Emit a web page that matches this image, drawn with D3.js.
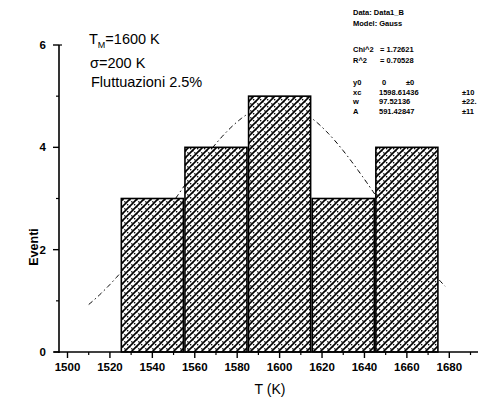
<!DOCTYPE html>
<html>
<head>
<meta charset="utf-8">
<script src="https://cdn.jsdelivr.net/npm/d3@7"></script>
<style>
  html, body { margin: 0; padding: 0; background: #fff; }
  svg { display: block; font-family: "Liberation Sans", Arial, sans-serif; }
</style>
</head>
<body>
<svg id="chart" width="478" height="399"></svg>
<script>
// Histogram of measured temperatures
const binStarts = [1525, 1555, 1585, 1615, 1645];
const binWidth = 30;
const counts = [3, 4, 5, 3, 4];

// Gauss fit parameters (y0, xc, w, A)
const fitY0 = 0;
const fitXc = 1598.61436;
const fitW = 97.52136;
const fitA = 591.42847;
const fitRange = [1510, 1678];

// Axis ticks
const xMajorTicks = [1500, 1520, 1540, 1560, 1580, 1600, 1620, 1640, 1660, 1680];
const xMinorTicks = [1510, 1530, 1550, 1570, 1590, 1610, 1630, 1650, 1670, 1690];
const yMajorTicks = [0, 2, 4, 6];
const yMinorTicks = [1, 3, 5];

// Fit report lines
const reportHead = ["Data: Data1_B", "Model: Gauss"];
const reportQuality = [["Chi^2", "= 1.72621"], ["R^2", "= 0.70528"]];
const reportParams = [
  ["y0", "0", "\u00b10"],
  ["xc", "1598.61436", "\u00b110"],
  ["w", "97.52136", "\u00b122."],
  ["A", "591.42847", "\u00b111"]
];

const svg = d3.select("#chart");

const x = d3.scaleLinear().domain([1500, 1680]).range([67.5, 449.3]);
const y = d3.scaleLinear().domain([0, 6]).range([352, 45]);

// Cross-hatch fill
const P = 7;
const defs = svg.append("defs");
const pat = defs.append("pattern")
  .attr("id", "hatch")
  .attr("patternUnits", "userSpaceOnUse")
  .attr("width", P).attr("height", P);
pat.append("rect").attr("width", P).attr("height", P).attr("fill", "#fff");
pat.append("path")
  .attr("d", `M-1,${P + 1} L${P + 1},-1 M-1,1 L1,-1 M${P - 1},${P + 1} L${P + 1},${P - 1}`)
  .attr("stroke", "#000").attr("stroke-width", 1.6);
pat.append("path")
  .attr("d", `M-1,-1 L${P + 1},${P + 1}`)
  .attr("stroke", "#000").attr("stroke-width", 1.2)
  .attr("stroke-dasharray", "1.6,1.4");

// Gauss fit curve
const gauss = t => fitY0 + fitA / (fitW * Math.sqrt(Math.PI / 2)) *
  Math.exp(-2 * Math.pow((t - fitXc) / fitW, 2));
const curveXs = d3.range(fitRange[0], fitRange[1] + 0.5, 1);
svg.append("path")
  .datum(curveXs)
  .attr("fill", "none")
  .attr("stroke", "#000")
  .attr("stroke-width", 1)
  .attr("stroke-dasharray", "5,3,1.5,3")
  .attr("d", d3.line().x(d => x(d)).y(d => y(gauss(d))));

// Bars
svg.append("g").selectAll("rect")
  .data(binStarts.map((s, i) => ({ s, c: counts[i] })))
  .join("rect")
  .attr("x", d => x(d.s) + 0.8)
  .attr("y", d => y(d.c))
  .attr("width", d => x(d.s + binWidth) - x(d.s) - 1.6)
  .attr("height", d => y(0) - y(d.c))
  .attr("fill", "url(#hatch)")
  .attr("stroke", "#000")
  .attr("stroke-width", 1.6);

// X axis
const xAxisG = svg.append("g").attr("transform", `translate(0,${y(0)})`);
xAxisG.append("line")
  .attr("x1", 54).attr("x2", 478)
  .attr("stroke", "#000").attr("stroke-width", 1.6);
xAxisG.selectAll("line.maj").data(xMajorTicks).join("line")
  .attr("class", "maj")
  .attr("x1", d => x(d)).attr("x2", d => x(d))
  .attr("y1", 0).attr("y2", 6)
  .attr("stroke", "#000").attr("stroke-width", 1.4);
xAxisG.selectAll("line.min").data(xMinorTicks).join("line")
  .attr("class", "min")
  .attr("x1", d => x(d)).attr("x2", d => x(d))
  .attr("y1", 0).attr("y2", 3)
  .attr("stroke", "#000").attr("stroke-width", 1.2);
xAxisG.selectAll("text").data(xMajorTicks).join("text")
  .attr("x", d => x(d)).attr("y", 19)
  .attr("text-anchor", "middle")
  .attr("font-size", 11.5).attr("font-weight", "bold")
  .text(d => d);

// Y axis
const yAxisG = svg.append("g").attr("transform", "translate(59,0)");
yAxisG.append("line")
  .attr("y1", y(6)).attr("y2", y(0) + 1)
  .attr("stroke", "#000").attr("stroke-width", 1.6);
yAxisG.append("line")
  .attr("x1", 0).attr("x2", 3).attr("y1", y(6)).attr("y2", y(6))
  .attr("stroke", "#000").attr("stroke-width", 1.2);
yAxisG.selectAll("line.maj").data(yMajorTicks).join("line")
  .attr("class", "maj")
  .attr("x1", -6).attr("x2", 0)
  .attr("y1", d => y(d)).attr("y2", d => y(d))
  .attr("stroke", "#000").attr("stroke-width", 1.4);
yAxisG.selectAll("line.min").data(yMinorTicks).join("line")
  .attr("class", "min")
  .attr("x1", -3).attr("x2", 0)
  .attr("y1", d => y(d)).attr("y2", d => y(d))
  .attr("stroke", "#000").attr("stroke-width", 1.2);
yAxisG.selectAll("text").data(yMajorTicks).join("text")
  .attr("x", -13).attr("y", d => y(d) + 4)
  .attr("text-anchor", "end")
  .attr("font-size", 11.5).attr("font-weight", "bold")
  .text(d => d);

// Axis titles
svg.append("text")
  .attr("x", 270).attr("y", 394)
  .attr("text-anchor", "middle")
  .attr("font-size", 14)
  .text("T (K)");
svg.append("text")
  .attr("transform", "translate(38,247) rotate(-90)")
  .attr("text-anchor", "middle")
  .attr("font-size", 12.5).attr("font-weight", "bold")
  .text("Eventi");

// Simulation parameters
const note = svg.append("g").attr("font-size", 14.5).attr("fill", "#000");
const t1 = note.append("text").attr("x", 89).attr("y", 44);
t1.append("tspan").text("T");
t1.append("tspan").attr("font-size", 9).attr("dy", 4).text("M");
t1.append("tspan").attr("dy", -4).text("=1600 K");
note.append("text").attr("x", 90).attr("y", 68).text("\u03c3=200 K");
note.append("text").attr("x", 91).attr("y", 87).text("Fluttuazioni 2.5%");

// Fit report
const rep = svg.append("g").attr("font-size", 7.5).attr("font-weight", "bold");
reportHead.forEach((s, i) => {
  rep.append("text").attr("x", 353).attr("y", 15 + i * 10.5).text(s);
});
reportQuality.forEach((r, i) => {
  rep.append("text").attr("x", 353).attr("y", 52 + i * 11).text(r[0]);
  rep.append("text").attr("x", 380).attr("y", 52 + i * 11).text(r[1]);
});
const errX = [406, 462, 462, 462];
reportParams.forEach((r, i) => {
  const yy = 85 + i * 9.5;
  rep.append("text").attr("x", 353).attr("y", yy).text(r[0]);
  rep.append("text").attr("x", i === 0 ? 382 : 379).attr("y", yy).text(r[1]);
  rep.append("text").attr("x", errX[i]).attr("y", yy).text(r[2]);
});
</script>
</body>
</html>
